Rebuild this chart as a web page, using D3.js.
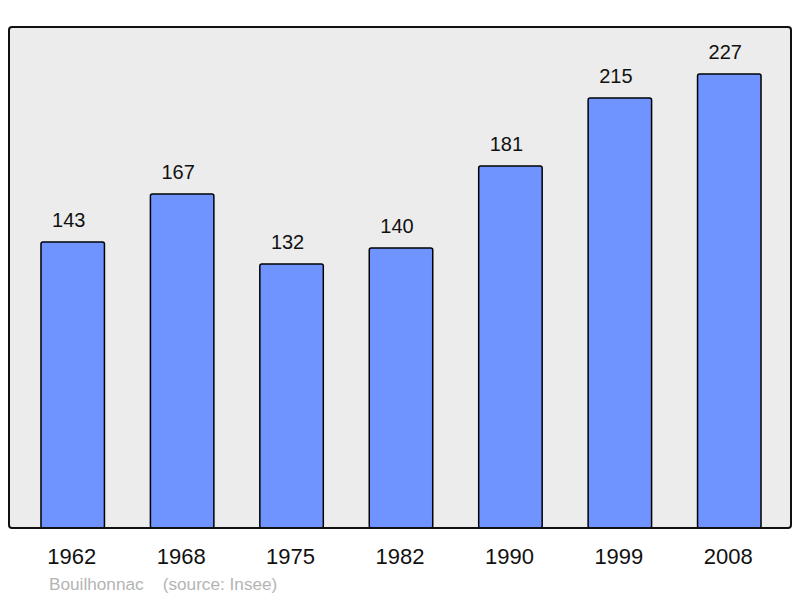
<!DOCTYPE html>
<html>
<head>
<meta charset="utf-8">
<script src="https://cdn.jsdelivr.net/npm/d3@7"></script>
<style>
  body { margin: 0; background: #fff; }
  svg text { font-family: "Liberation Sans", Arial, sans-serif; }
</style>
</head>
<body>
<div id="chart"></div>
<script>
// population data
var years = ['1962', '1968', '1975', '1982', '1990', '1999', '2008'];
var population = [143, 167, 132, 140, 181, 215, 227];
var yTicks = [0, 250];

var width = 800, height = 598;
var frame = {left: 9, top: 27, right: 791, bottom: 528};

var svg = d3.select("#chart")
    .append("svg")
    .attr("width", width)
    .attr("height", height);

// plot background
svg.append("rect")
    .attr("x", frame.left)
    .attr("y", frame.top)
    .attr("width", frame.right - frame.left)
    .attr("height", frame.bottom - frame.top)
    .attr("rx", 3)
    .attr("fill", "#ececec");

var x = d3.scaleBand()
    .domain(years)
    .range([18, 784])
    .paddingInner(0.42)
    .paddingOuter(0.21);

var y = d3.scaleLinear()
    .domain([yTicks[0], yTicks[1]])
    .range([frame.bottom, frame.top + 1]);

// bars
svg.append("g")
    .selectAll("rect")
    .data(population)
    .enter()
    .append("rect")
    .attr("x", function(d, i) { return x(years[i]); })
    .attr("y", function(d) { return y(d); })
    .attr("width", x.bandwidth())
    .attr("height", function(d) { return y(0) - y(d); })
    .attr("rx", 2)
    .attr("fill", "#7094ff")
    .attr("stroke", "#000")
    .attr("stroke-width", 1.5);

// frame border on top of bars
svg.append("rect")
    .attr("x", frame.left)
    .attr("y", frame.top)
    .attr("width", frame.right - frame.left)
    .attr("height", frame.bottom - frame.top)
    .attr("rx", 3)
    .attr("fill", "none")
    .attr("stroke", "#111")
    .attr("stroke-width", 2);

// value labels (slightly left of bar centre, as in the original)
svg.append("g")
    .selectAll("text")
    .data(population)
    .enter()
    .append("text")
    .attr("x", function(d, i) { return x(years[i]) + x.bandwidth() / 2 - 4; })
    .attr("y", function(d) { return y(d) - 15.5; })
    .attr("text-anchor", "middle")
    .attr("font-size", "20px")
    .attr("fill", "#111")
    .text(function(d) { return d; });

// year axis labels
var xAxis = d3.axisBottom(x).tickSize(0).tickPadding(0);
var gx = svg.append("g")
    .attr("transform", "translate(0," + (frame.bottom + 36) + ")")
    .call(xAxis);
gx.select(".domain").remove();
gx.selectAll("text")
    .attr("dy", 0)
    .attr("dx", -1)
    .attr("font-family", "Liberation Sans, Arial, sans-serif")
    .attr("font-size", "22px")
    .attr("fill", "#111");

// footer
svg.append("text")
    .attr("x", 49)
    .attr("y", 590)
    .attr("font-size", "17.2px")
    .attr("fill", "#b4b4b4")
    .attr("xml:space", "preserve")
    .text("Bouilhonnac    (source: Insee)");
</script>
</body>
</html>
